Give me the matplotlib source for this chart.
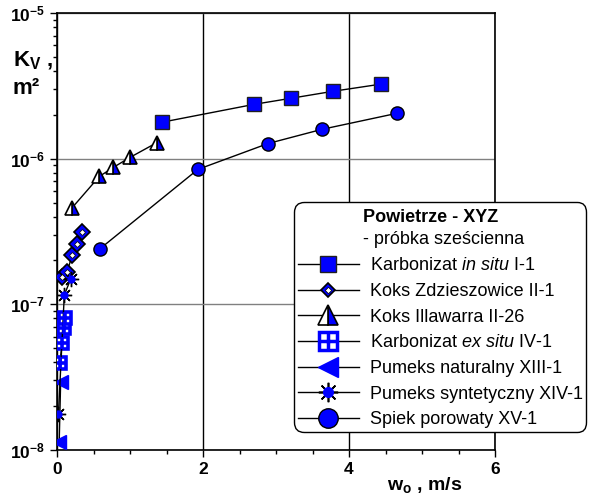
import matplotlib
matplotlib.use("Agg")
import matplotlib.pyplot as plt
from matplotlib.lines import Line2D
from matplotlib.ticker import FixedLocator, LogLocator, NullFormatter

plt.rcParams['font.family'] = ['Liberation Sans', 'DejaVu Sans']
plt.rcParams['mathtext.fontset'] = 'custom'
plt.rcParams['mathtext.rm'] = 'Liberation Sans'
plt.rcParams['mathtext.it'] = 'Liberation Sans:italic'
plt.rcParams['mathtext.bf'] = 'Liberation Sans:bold'

# ---- data ----
in_situ_x = [1.44, 2.70, 3.21, 3.78, 4.44]
in_situ_y = [1.78e-6, 2.36e-6, 2.60e-6, 2.90e-6, 3.25e-6]

zdz_x = [0.07, 0.14, 0.21, 0.27, 0.34]
zdz_y = [1.55e-7, 1.68e-7, 2.19e-7, 2.61e-7, 3.16e-7]

illa_x = [0.21, 0.58, 0.77, 1.00, 1.37]
illa_y = [4.62e-7, 7.55e-7, 8.70e-7, 1.02e-6, 1.29e-6]

ex_situ_x = [0.04, 0.07, 0.09, 0.11]
ex_situ_y = [3.96e-8, 5.45e-8, 6.90e-8, 8.10e-8]

nat_x = [0.03, 0.05]
nat_y = [1.13e-8, 2.93e-8]

syn_x = [0.02, 0.10, 0.19]
syn_y = [1.78e-8, 1.16e-7, 1.50e-7]

spiek_x = [0.59, 1.93, 2.89, 3.63, 4.66]
spiek_y = [2.41e-7, 8.44e-7, 1.27e-6, 1.59e-6, 2.05e-6]

labels = [
    r"Karbonizat $\mathit{in\ situ}$ I-1",
    "Koks Zdzieszowice II-1",
    "Koks Illawarra II-26",
    r"Karbonizat $\mathit{ex\ situ}$ IV-1",
    "Pumeks naturalny XIII-1",
    "Pumeks syntetyczny XIV-1",
    "Spiek porowaty XV-1",
]
xticks = [0, 2, 4, 6]
yticks = [1e-8, 1e-7, 1e-6, 1e-5]
ytick_labels = [r"$\mathbf{10^{-8}}$", r"$\mathbf{10^{-7}}$", r"$\mathbf{10^{-6}}$", r"$\mathbf{10^{-5}}$"]

BLUE = '#0000ff'

fig = plt.figure(figsize=(5.89, 5.0), dpi=100)
W, H = 589, 500
ax = fig.add_axes([57 / W, 1 - 450 / H, (495 - 57) / W, (450 - 13) / H])

ax.set_xlim(0, 6)
ax.set_yscale('log')
ax.set_ylim(1e-8, 1e-5)

# grid
ax.set_axisbelow(True)
ax.xaxis.grid(True, which='major', color='black', lw=1)
ax.yaxis.grid(True, which='major', color='#808080', lw=1)

lk = dict(color='black', lw=1, zorder=3)
# in situ
ax.plot(in_situ_x, in_situ_y, marker='s', ms=9.5, mfc=BLUE, mec='#202020', mew=1, **lk)
# zdzieszowice
ax.plot(zdz_x, zdz_y, marker='D', ms=7.8, mfc=BLUE, mec='black', mew=1.2, **lk)
ax.plot(zdz_x, zdz_y, ls='none', marker='D', ms=3, mfc='white', mec='black', mew=0.5, zorder=4)
# illawarra
ax.plot(illa_x, illa_y, marker='^', ms=10, fillstyle='right', mfc=BLUE, mfcalt='white',
        mec='black', mew=1.2, **lk)
# ex situ
ax.plot(ex_situ_x, ex_situ_y, marker='s', ms=9, mfc='white', mec=BLUE, mew=2.6, **lk)
ax.plot(ex_situ_x, ex_situ_y, ls='none', marker='+', ms=9, mec=BLUE, mew=2.6, zorder=4)
# naturalny
ax.plot(nat_x, nat_y, marker='<', ms=10, mfc=BLUE, mec=BLUE, mew=1, **lk)
# syntetyczny
ax.plot(syn_x, syn_y, marker=(8, 2, 0), ms=11, mec='black', mew=1, **lk)
ax.plot(syn_x, syn_y, ls='none', marker='o', ms=5, mfc=BLUE, mec=BLUE, zorder=4)
# spiek
ax.plot(spiek_x, spiek_y, marker='o', ms=9.5, mfc=BLUE, mec='black', mew=1, **lk)

# ticks
ax.xaxis.set_major_locator(FixedLocator(xticks))
ax.set_xticklabels([str(t) for t in xticks], fontsize=12.5, fontweight='bold')
ax.xaxis.set_minor_locator(FixedLocator([v * 0.5 for v in range(13)]))
ax.yaxis.set_major_locator(FixedLocator(yticks))
ax.set_yticklabels(ytick_labels, fontsize=12.5)
ax.yaxis.set_minor_locator(LogLocator(base=10, subs=range(2, 10)))
ax.yaxis.set_minor_formatter(NullFormatter())
ax.tick_params(which='major', direction='out', length=5, width=1, pad=4)
ax.tick_params(which='minor', direction='out', length=3, width=1)
for s in ax.spines.values():
    s.set_linewidth(1.2)

# axis labels
fig.text(13 / W, 1 - 66 / H, r"K$_\mathbf{V}$ ,", fontsize=16, fontweight='bold', va='baseline')
fig.text(13 / W, 1 - 94 / H, "m²", fontsize=16, fontweight='bold', va='baseline')
fig.text(387 / W, 1 - 490 / H, r"w$_\mathbf{o}$ , m/s", fontsize=14, fontweight='bold', va='baseline')

# legend
h_insitu = Line2D([], [], color='black', lw=1, marker='s', ms=12, mfc=BLUE, mec='#202020', mew=1)
h_zdz = (Line2D([], [], color='black', lw=1, marker='D', ms=7.5, mfc=BLUE, mec='black', mew=1.2),
         Line2D([], [], ls='none', marker='D', ms=3.2, mfc='white', mec='black', mew=0.5))
h_illa = Line2D([], [], color='black', lw=1, marker='^', ms=14, fillstyle='right', mfc=BLUE,
                mfcalt='white', mec='black', mew=1.2)
h_ex = (Line2D([], [], color='black', lw=1, marker='s', ms=12.5, mfc='white', mec=BLUE, mew=2.5),
        Line2D([], [], ls='none', marker='+', ms=12.5, mec=BLUE, mew=2.5))
h_nat = Line2D([], [], color='black', lw=1, marker='<', ms=14, mfc=BLUE, mec=BLUE)
h_syn = (Line2D([], [], color='black', lw=1, marker=(8, 2, 0), ms=14, mec='black', mew=1.2),
         Line2D([], [], ls='none', marker='o', ms=7, mfc=BLUE, mec=BLUE))
h_spiek = Line2D([], [], color='black', lw=1, marker='o', ms=14, mfc=BLUE, mec='black', mew=1)
blank = Line2D([], [], ls='none')

handles = [blank, blank, h_insitu, h_zdz, h_illa, h_ex, h_nat, h_syn, h_spiek]
leg_labels = [' ', ' '] + labels
leg = fig.legend(handles, leg_labels, loc='lower left',
                 bbox_to_anchor=(294 / W, 1 - 432 / H), bbox_transform=fig.transFigure,
                 fontsize=13, handlelength=3.4, handletextpad=0.6, labelspacing=0.48,
                 borderpad=0.2, borderaxespad=0, frameon=True, fancybox=True,
                 edgecolor='black', framealpha=1)
leg.get_frame().set_linewidth(1)
leg.get_frame().set_boxstyle('round', pad=0, rounding_size=0.55)
leg.set_zorder(10)

fig.text(363 / W, 1 - 218 / H, "Powietrze - XYZ", fontsize=13, fontweight='bold', va='center', zorder=20)
fig.text(363 / W, 1 - 240 / H, "- próbka sześcienna", fontsize=13, va='center', zorder=20)

fig.savefig("out.png", dpi=100)
